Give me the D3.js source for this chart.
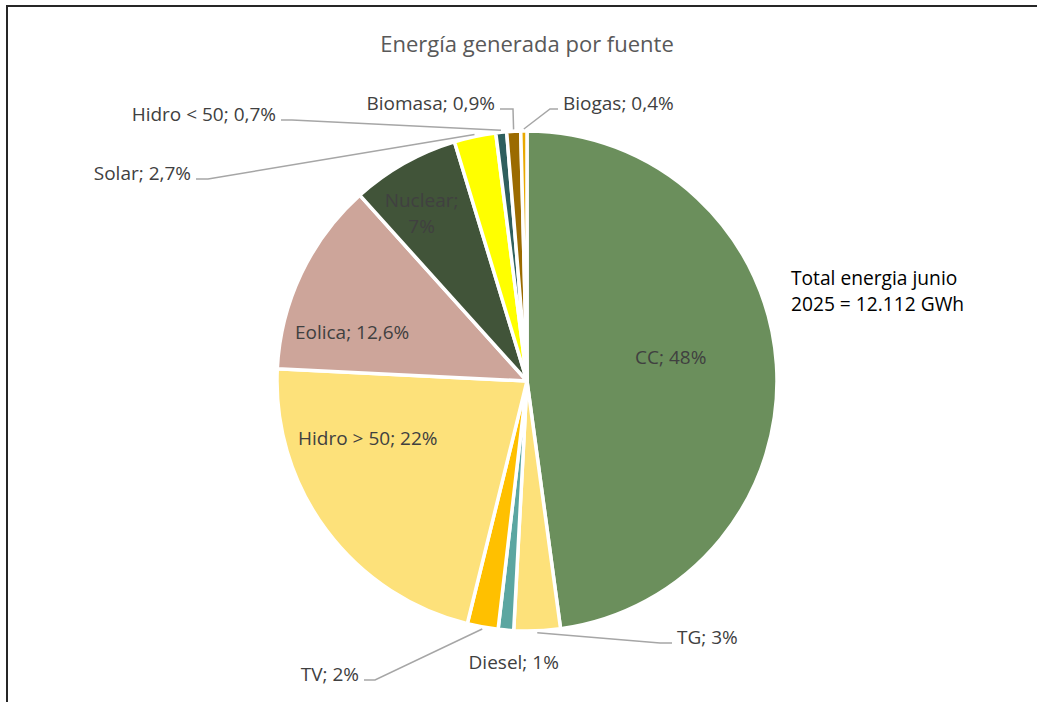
<!DOCTYPE html>
<html>
<head>
<meta charset="utf-8">
<script src="https://cdn.jsdelivr.net/npm/d3@7"></script>
<style>
  body { margin: 0; background: #fff; }
  text { font-family: 'Open Sans', Arial, sans-serif; }
</style>
</head>
<body>
<div id="chart"></div>
<script>
const CATEGORIES = ['CC', 'TG', 'Diesel', 'TV', 'Hidro > 50', 'Eolica', 'Nuclear', 'Solar', 'Hidro < 50', 'Biomasa', 'Biogas'];
const VALUES = [48, 3, 1, 2, 22, 12.6, 7, 2.7, 0.7, 0.9, 0.4];
const VALUE_LABELS = ['48%', '3%', '1%', '2%', '22%', '12,6%', '7%', '2,7%', '0,7%', '0,9%', '0,4%'];
const COLORS = ['#6b8f5c', '#fde17a', '#5ba6a1', '#ffc000', '#fde17a', '#cda59a', '#415439', '#ffff00', '#2f5f5e', '#9b6b00', '#e9a900'];
const TITLE = 'Energía generada por fuente';
const NOTE = ['Total energia junio', '2025 = 12.112 GWh'];

// labels drawn inside the slice, offset from the arc centroid
const INSIDE_OFFSETS = {
  'CC': { x: 19, y: -15 },
  'Hidro > 50': { x: -59, y: -17 },
  'Eolica': { x: -62, y: 5 },
  'Nuclear': { x: -44, y: -59, lines: ['Nuclear;', '7%'] },
};

// label under the slice, no leader line (offset from outer arc point)
const NEAR_OFFSETS = {
  'Diesel': { x: 8, y: 30 },
};

// outside labels with leader lines, relative to pie center
const LEADERS = {
  'TG': { elbow: [133, 262], end: [145, 262], anchor: 'start' },
  'TV': { elbow: [-152, 299], end: [-163, 299], anchor: 'end' },
  'Solar': { elbow: [-319, -202], end: [-331, -202], anchor: 'end' },
  'Hidro < 50': { elbow: [-235, -261], end: [-246, -261], anchor: 'end' },
  'Biomasa': { elbow: [-14, -272], end: [-27, -272], anchor: 'end' },
  'Biogas': { elbow: [23, -272], end: [31, -272], anchor: 'start' },
};

const chart = {
  init() {
    this.width = 1037;
    this.height = 702;
    this.cx = 527;
    this.cy = 381;
    this.radius = 250;
    this.labelColor = '#404040';
    this.lineColor = '#a6a6a6';
    this.draw();
  },

  draw() {
    const svg = d3.select('#chart').append('svg')
      .attr('width', chart.width)
      .attr('height', chart.height);

    // chart frame (only top and left visible)
    svg.append('path')
      .attr('d', `M7,${chart.height} L7,6 L${chart.width},6`)
      .attr('fill', 'none')
      .attr('stroke', '#262626')
      .attr('stroke-width', 2);

    svg.append('text')
      .attr('x', chart.cx)
      .attr('y', 52)
      .attr('text-anchor', 'middle')
      .attr('fill', '#595959')
      .style('font-size', '22px')
      .text(TITLE);

    const data = CATEGORIES.map((c, i) => ({ name: c, value: VALUES[i], label: VALUE_LABELS[i], color: COLORS[i] }));

    const pie = d3.pie()
      .sort(null)
      .value(d => d.value);

    const arc = d3.arc()
      .innerRadius(0)
      .outerRadius(chart.radius);

    const outerArc = d3.arc()
      .innerRadius(chart.radius + 2)
      .outerRadius(chart.radius + 2);

    const g = svg.append('g')
      .attr('transform', `translate(${chart.cx},${chart.cy})`);

    const arcs = pie(data);

    g.selectAll('path.slice')
      .data(arcs)
      .enter().append('path')
      .attr('class', 'slice')
      .attr('d', arc)
      .attr('fill', d => d.data.color)
      .attr('stroke', '#fff')
      .attr('stroke-width', 3.5)
      .attr('stroke-linejoin', 'round');

    const labelStyle = 'font-size: 19px';

    arcs.forEach((d) => {
      const name = d.data.name;
      const text = `${name}; ${d.data.label}`;
      if (INSIDE_OFFSETS[name]) {
        const c = arc.centroid(d);
        const off = INSIDE_OFFSETS[name];
        const lines = off.lines || [text];
        const t = g.append('text')
          .attr('text-anchor', 'middle')
          .attr('fill', chart.labelColor)
          .attr('style', labelStyle);
        lines.forEach((l, i) => {
          t.append('tspan')
            .attr('x', c[0] + off.x)
            .attr('y', c[1] + off.y + (i - (lines.length - 1) / 2) * 26)
            .attr('dy', '0.35em')
            .text(l);
        });
      } else if (NEAR_OFFSETS[name]) {
        const p = outerArc.centroid(d);
        const off = NEAR_OFFSETS[name];
        g.append('text')
          .attr('x', p[0] + off.x)
          .attr('y', p[1] + off.y)
          .attr('dy', '0.35em')
          .attr('text-anchor', 'middle')
          .attr('fill', chart.labelColor)
          .attr('style', labelStyle)
          .text(text);
      } else if (LEADERS[name]) {
        const p = outerArc.centroid(d);
        const l = LEADERS[name];
        g.append('polyline')
          .attr('points', [p, l.elbow, l.end].map(q => q.join(',')).join(' '))
          .attr('fill', 'none')
          .attr('stroke', chart.lineColor)
          .attr('stroke-width', 1.5);
        g.append('text')
          .attr('x', l.end[0] + (l.anchor === 'start' ? 5 : -5))
          .attr('y', l.end[1] + 1)
          .attr('text-anchor', l.anchor)
          .attr('fill', chart.labelColor)
          .attr('style', labelStyle)
          .text(text);
      }
    });

    const note = svg.append('text')
      .attr('fill', '#000')
      .attr('style', 'font-size: 19.2px');
    NOTE.forEach((line, i) => {
      note.append('tspan')
        .attr('x', 791)
        .attr('y', 285 + i * 26)
        .text(line);
    });
  },
};

(() => {
  chart.init();
})();
</script>
</body>
</html>
